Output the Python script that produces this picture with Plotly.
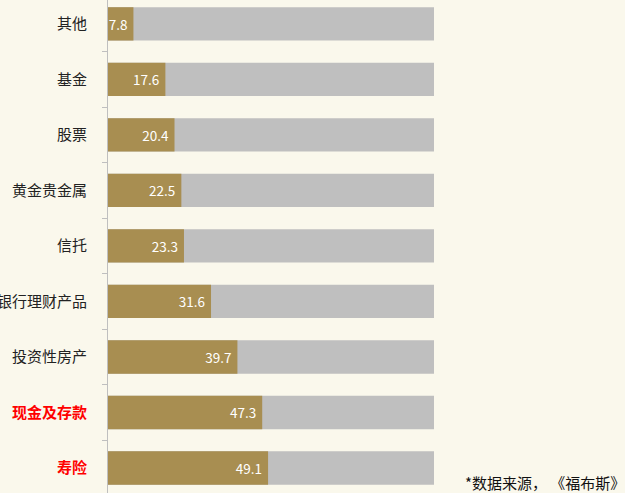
import plotly.graph_objects as go

# Data (bottom to top)
categories = ["寿险", "现金及存款", "投资性房产", "银行理财产品", "信托",
              "黄金贵金属", "股票", "基金", "其他"]
values = [49.1, 47.3, 39.7, 31.6, 23.3, 22.5, 20.4, 17.6, 7.8]
full_scale = [100, 100, 100, 100, 100, 100, 100, 100, 100]
highlight = ["寿险", "现金及存款"]

tick_text = []
for c in categories:
    if c in highlight:
        tick_text.append("<b><span style='color:#FF0000'>" + c + "</span></b>")
    else:
        tick_text.append(c)

bg = "#FAF8EC"

fig = go.Figure()
fig.add_trace(go.Bar(
    y=categories, x=full_scale, orientation="h", width=0.6,
    marker=dict(color="#BFBFBF", line=dict(width=0)),
    hoverinfo="skip", showlegend=False,
))
fig.add_trace(go.Bar(
    y=categories, x=values, orientation="h", width=0.6,
    marker=dict(color="#A88E51", line=dict(width=0)),
    text=[f"{v} " for v in values], textposition="inside", textangle=0,
    insidetextanchor="end", constraintext="none",
    textfont=dict(color="white", size=13.5, family="Noto Sans CJK SC"),
    cliponaxis=True, showlegend=False,
))

fig.update_layout(
    width=625, height=493,
    margin=dict(l=108, r=191, t=0, b=0),
    barmode="overlay",
    paper_bgcolor=bg, plot_bgcolor=bg,
    font=dict(family="Noto Sans CJK SC", size=15, color="#222222"),
    xaxis=dict(range=[0, 100], visible=False, showgrid=False, zeroline=False,
               automargin=False),
    yaxis=dict(
        type="category", categoryorder="array", categoryarray=categories,
        tickvals=categories, ticktext=tick_text,
        range=[-0.45, 8.43], automargin=False,
        showline=True, linecolor="#BFBFBF", linewidth=1,
        ticks="outside", tickson="boundaries", ticklen=5, tickcolor="#BFBFBF",
        ticklabelstandoff=17, showgrid=False, zeroline=False,
    ),
    annotations=[dict(
        text="*数据来源， 《福布斯》", xref="paper", yref="paper",
        x=1.593, y=0.022, xanchor="right", yanchor="middle",
        showarrow=False, font=dict(size=15, color="#111111"),
    )],
)

# drop the page's default body margin so the figure sits at the window corner
fig.write_html("out.html", config={"displayModeBar": False},
               post_script="document.body.style.margin='0';document.body.style.overflow='hidden';")
